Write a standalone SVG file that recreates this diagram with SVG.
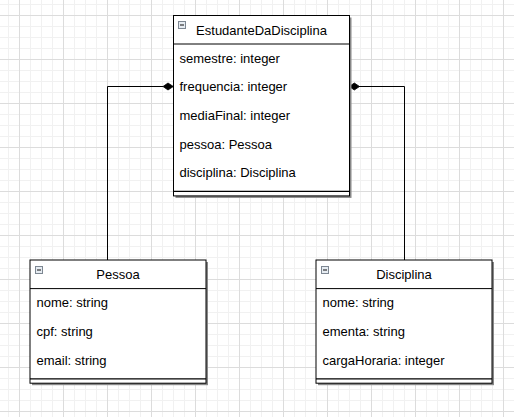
<svg xmlns="http://www.w3.org/2000/svg" width="514" height="417" viewBox="0 0 514 417">
<defs>
<pattern id="gMinor" width="11" height="11" patternUnits="userSpaceOnUse" x="8" y="4">
<path d="M0.5 0V11M0 0.5H11" stroke="#f1f1f1" stroke-width="1" fill="none"/>
</pattern>
<pattern id="gMajor" width="44" height="44" patternUnits="userSpaceOnUse" x="19" y="15">
<path d="M0.5 0V44M0 0.5H44" stroke="#dcdcdc" stroke-width="1" fill="none"/>
</pattern>
<marker id="diamond" viewBox="0 0 12 8" refX="11" refY="4" markerWidth="12" markerHeight="8" markerUnits="userSpaceOnUse" orient="auto">
<path d="M1 4L6 0.8L11 4L6 7.2Z" fill="#000" stroke="#000" stroke-width="0.8"/>
</marker>
</defs>
<style>
.shadow{fill:#888;}
.box{fill:#fff;stroke:#000;stroke-width:1;}
.sep{stroke:#000;stroke-width:1;fill:none;}
.sep2{stroke:#000;stroke-width:1.3;fill:none;}
.t{font-family:"Liberation Sans",Arial,sans-serif;font-size:13px;fill:#000;}
.title{text-anchor:middle;}
.icon{fill:#e6ecf2;stroke:#7d8792;stroke-width:1;}
.minus{stroke:#333;stroke-width:1.2;}
.edge{fill:none;stroke:#000;stroke-width:1;}
</style>
<rect width="514" height="417" fill="#fff"/>
<rect width="514" height="417" fill="url(#gMinor)"/>
<rect width="514" height="417" fill="url(#gMajor)"/>

<g id="connectors">
<path class="edge" d="M107.5 260V86.5H163" />
<path class="edge" d="M404.5 260V86.5H359" />
<path d="M163 86.5L168 83L173.3 86.5L168 90Z" fill="#000" stroke="#000" stroke-width="0.8"/>
<path d="M349.3 86.5L354.3 83L359.5 86.5L354.3 90Z" fill="#000" stroke="#000" stroke-width="0.8"/>
</g>

<g id="EstudanteDaDisciplina">
<rect class="shadow" x="175.5" y="17.5" width="176" height="180.4"/>
<rect class="box" x="173.5" y="15.5" width="176" height="180.4"/>
<line class="sep" x1="173.5" y1="44" x2="349.5" y2="44"/>
<line class="sep2" x1="173.5" y1="191.4" x2="349.5" y2="191.4"/>
<rect class="icon" x="178.5" y="21.5" width="7" height="7"/>
<line class="minus" x1="180" y1="25" x2="184" y2="25"/>
<text class="t title" x="261.5" y="34.5">EstudanteDaDisciplina</text>
<text class="t" x="179.5" y="62.7">semestre: integer</text>
<text class="t" x="179.5" y="91.3">frequencia: integer</text>
<text class="t" x="179.5" y="119.9">mediaFinal: integer</text>
<text class="t" x="179.5" y="148.5">pessoa: Pessoa</text>
<text class="t" x="179.5" y="177.1">disciplina: Disciplina</text>
</g>

<g id="Pessoa">
<rect class="shadow" x="32" y="262" width="176" height="123.2"/>
<rect class="box" x="30" y="260" width="176" height="123.2"/>
<line class="sep" x1="30" y1="288.6" x2="206" y2="288.6"/>
<line class="sep2" x1="30" y1="378.8" x2="206" y2="378.8"/>
<rect class="icon" x="35.5" y="266.5" width="7" height="7"/>
<line class="minus" x1="37" y1="270" x2="41" y2="270"/>
<text class="t title" x="118" y="278.8">Pessoa</text>
<text class="t" x="36.5" y="307.3">nome: string</text>
<text class="t" x="36.5" y="335.9">cpf: string</text>
<text class="t" x="36.5" y="364.5">email: string</text>
</g>

<g id="Disciplina">
<rect class="shadow" x="318" y="262" width="176" height="123.2"/>
<rect class="box" x="316" y="260" width="176" height="123.2"/>
<line class="sep" x1="316" y1="288.6" x2="492" y2="288.6"/>
<line class="sep2" x1="316" y1="378.8" x2="492" y2="378.8"/>
<rect class="icon" x="321.5" y="266.5" width="7" height="7"/>
<line class="minus" x1="323" y1="270" x2="327" y2="270"/>
<text class="t title" x="404" y="278.8">Disciplina</text>
<text class="t" x="322.5" y="307.3">nome: string</text>
<text class="t" x="322.5" y="335.9">ementa: string</text>
<text class="t" x="322.5" y="364.5">cargaHoraria: integer</text>
</g>
</svg>
